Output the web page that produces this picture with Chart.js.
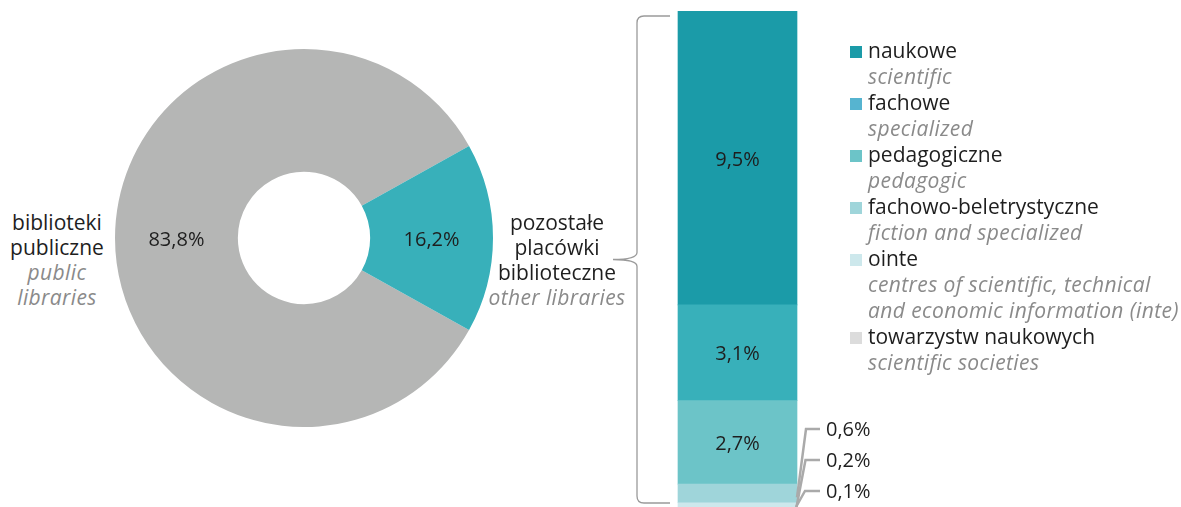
<!DOCTYPE html>
<html>
<head>
<meta charset="utf-8">
<script src="https://cdn.jsdelivr.net/npm/chart.js@4.4.1/dist/chart.umd.min.js"></script>
<style>
    body { margin: 0; width: 1181px; height: 507px; overflow: hidden; position: relative; background: #fff;
           font-family: 'Open Sans', sans-serif; color: #1e1e1e; }
    .box { position: absolute; }
    .side { position: absolute; text-align: center; font-size: 21px; line-height: 25px; }
    .en { color: #8a8a8a; font-style: italic; letter-spacing: 0.4px; }
    #legend { position: absolute; left: 850px; top: 37px; font-size: 21px; line-height: 26px; }
    #legend .item { position: relative; padding-left: 18px; }
    #legend .sw { position: absolute; left: 0; top: 9px; width: 12px; height: 12px; }
</style>
</head>
<body>
<div class="box" style="left:115px; top:49px; width:378px; height:378px;"><canvas id="pie"></canvas></div>
<div class="box" style="left:600px; top:0; width:280px; height:515px;"><canvas id="bar"></canvas></div>
<div class="side" id="labelLeft" style="left:0; width:114px; top:210px;"></div>
<div class="side" id="labelRight" style="left:480px; width:154px; top:210px;"></div>
<div id="legend"></div>

<script>
const mainLabels = ['biblioteki\npubliczne', 'pozostałe\nplacówki\nbiblioteczne'];
const mainLabelsEn = ['public\nlibraries', 'other libraries'];
const mainValues = [83.8, 16.2];
const mainColors = ['#b5b6b5', '#38b0ba'];

const typeLabels = ['naukowe', 'fachowe', 'pedagogiczne', 'fachowo-beletrystyczne', 'ointe', 'towarzystw naukowych'];
const typeLabelsEn = ['scientific', 'specialized', 'pedagogic', 'fiction and specialized',
    'centres of scientific, technical\nand economic information (inte)', 'scientific societies'];
const typeValues = [9.5, 3.1, 2.7, 0.6, 0.2, 0.1];
const typeColors = ['#1b9ba8', '#38b0ba', '#6cc4c8', '#9fd5da', '#cde8ec', '#dcdcdc'];
const legendColors = ['#1b9ba8', '#56b4d0', '#6cc4c8', '#9fd5da', '#cde8ec', '#dcdcdc'];

function fmt (v) {
    return v.toFixed(1).replace('.', ',') + '%';
}

function lines (text, cls) {
    return text.split('\n').map(t => '<div' + (cls ? ' class="' + cls + '"' : '') + '>' + t + '</div>').join('');
}

document.getElementById('labelLeft').innerHTML = lines(mainLabels[0]) + lines(mainLabelsEn[0], 'en');
document.getElementById('labelRight').innerHTML = lines(mainLabels[1]) + lines(mainLabelsEn[1], 'en');

document.getElementById('legend').innerHTML = typeLabels.map((l, i) =>
    '<div class="item"><span class="sw" style="background:' + legendColors[i] + '"></span>' + l +
    lines(typeLabelsEn[i], 'en') + '</div>').join('');

const FONT = "20px 'Open Sans', sans-serif";
const total = mainValues.reduce((a, b) => a + b, 0);
// teal slice centred on 3 o'clock
const rotation = 90 - 360 * (mainValues[0] + mainValues[1] / 2) / total;

const pieLabels = {
    id: 'pieLabels',
    afterDatasetsDraw (chart) {
        const ctx = chart.ctx;
        ctx.save();
        ctx.font = FONT;
        ctx.fillStyle = '#1e1e1e';
        ctx.textAlign = 'center';
        ctx.textBaseline = 'middle';
        chart.getDatasetMeta(0).data.forEach((arc, i) => {
            const p = arc.tooltipPosition();
            ctx.fillText(fmt(mainValues[i]), p.x, p.y + 2);
        });
        ctx.restore();
    }
};

new Chart(document.getElementById('pie'), {
    type: 'doughnut',
    data: {
        labels: mainLabels,
        datasets: [{
            data: mainValues,
            backgroundColor: mainColors,
            borderWidth: 0
        }]
    },
    options: {
        responsive: true,
        maintainAspectRatio: false,
        animation: false,
        cutout: '35%',
        rotation: rotation,
        plugins: { legend: { display: false }, tooltip: { enabled: false } }
    },
    plugins: [pieLabels]
});

// stacked bar draws bottom-up, so the list goes in reversed
const order = typeValues.map((v, i) => i).reverse();

const barExtras = {
    id: 'barExtras',
    afterDatasetsDraw (chart) {
        const ctx = chart.ctx;
        const area = chart.chartArea;
        ctx.save();
        ctx.font = FONT;
        ctx.fillStyle = '#1e1e1e';
        ctx.textBaseline = 'middle';

        let small = 0;
        let left = 0, right = 0;
        order.forEach((idx, di) => {
            const bar = chart.getDatasetMeta(di).data[0];
            left = bar.x - bar.width / 2;
            right = bar.x + bar.width / 2;
            const mid = (bar.y + bar.base) / 2;
            const v = typeValues[idx];
            if (v >= 1) {
                ctx.textAlign = 'center';
                ctx.fillText(fmt(v), bar.x, mid + 2);
            } else {
                // callout for thin segments
                const ly = area.bottom - 21 - small * 31;
                const sx = right - 1 + small * 0.5;
                ctx.strokeStyle = '#aaaaaa';
                ctx.lineWidth = 2.5;
                ctx.beginPath();
                ctx.moveTo(sx, Math.min(mid + 4, 507));
                ctx.lineTo(sx + 9, ly);
                ctx.lineTo(right + 23, ly);
                ctx.stroke();
                ctx.textAlign = 'left';
                ctx.fillText(fmt(v), right + 29, ly + 1);
                small++;
            }
        });

        // curly brace tying the bar to the doughnut slice
        const yTop = area.top + 5;
        const yBot = 503;
        const ym = (yTop + yBot) / 2;
        const xa = left - 8, xv = left - 41, xt = left - 65, r = 7;
        ctx.strokeStyle = '#9a9a9a';
        ctx.lineWidth = 1.3;
        ctx.beginPath();
        ctx.moveTo(xa, yTop);
        ctx.lineTo(xv + r, yTop);
        ctx.quadraticCurveTo(xv, yTop, xv, yTop + r);
        ctx.lineTo(xv, ym - r);
        ctx.quadraticCurveTo(xv, ym, xt, ym);
        ctx.quadraticCurveTo(xv, ym, xv, ym + r);
        ctx.lineTo(xv, yBot - r);
        ctx.quadraticCurveTo(xv, yBot, xv + r, yBot);
        ctx.lineTo(xa, yBot);
        ctx.stroke();
        ctx.restore();
    }
};

new Chart(document.getElementById('bar'), {
    type: 'bar',
    data: {
        labels: [''],
        datasets: order.map(i => ({
            label: typeLabels[i],
            data: [typeValues[i]],
            backgroundColor: typeColors[i],
            borderWidth: 0,
            barThickness: 119
        }))
    },
    options: {
        responsive: true,
        maintainAspectRatio: false,
        animation: false,
        layout: { padding: { top: 11, right: 5, bottom: 3, left: 0 } },
        scales: {
            x: { stacked: true, display: false },
            y: { stacked: true, display: false, min: 0, max: typeValues.reduce((a, b) => a + b, 0) }
        },
        plugins: { legend: { display: false }, tooltip: { enabled: false } }
    },
    plugins: [barExtras]
});
</script>
</body>
</html>
